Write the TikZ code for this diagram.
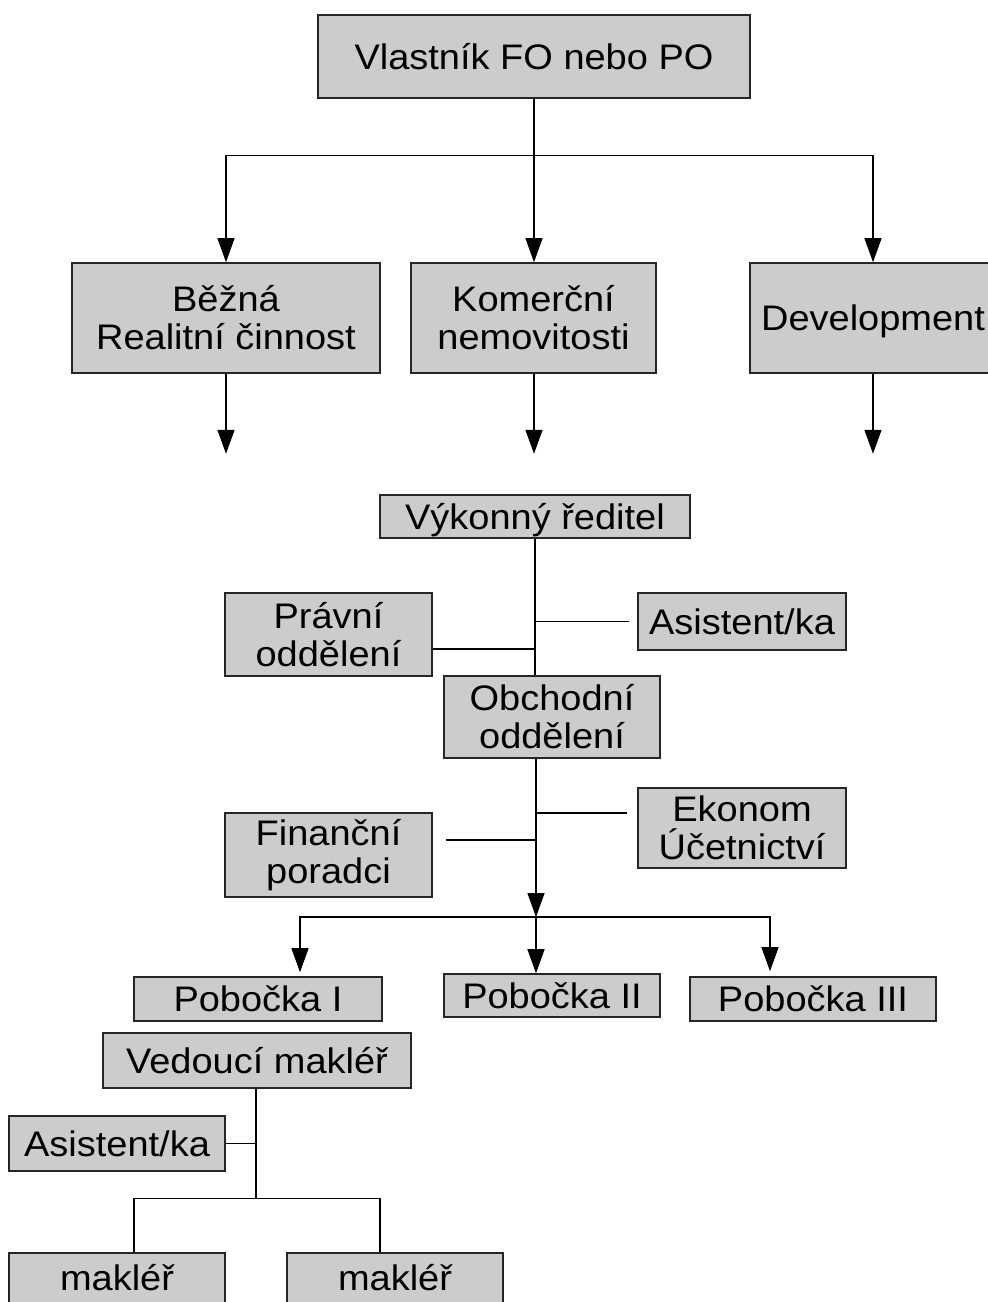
\documentclass[tikz,border=0pt]{standalone}
\usepackage{fontspec}
\setmainfont{Liberation Sans}[FakeStretch=1.07]
\usetikzlibrary{arrows.meta,calc}

\tikzset{
    box/.style={draw=black!85, line width=1.6pt, fill=black!20, inner sep=0pt,
        align=center, font=\fontsize{35.5pt}{38pt}\selectfont},
    oneline/.style={box, text depth=0pt},
    makbox/.style={box, anchor=north, text height=26pt, text depth=40pt,
        inner ysep=12pt, minimum width=216pt},
    arr/.style={-{Triangle[length=24pt,width=17pt]}}
}

\begin{document}
\begin{tikzpicture}[x=1pt,y=-1pt,line width=1.3pt]
    \clip (0,0) rectangle (988,1302);

    \node[oneline, minimum width=432pt, minimum height=83pt] (owner) at (534,56.5) {Vlastník FO nebo PO};

    \node[box, minimum width=308pt, minimum height=110pt] (bezna) at (226,318) {Běžná\\Realitní činnost};
    \node[box, minimum width=245pt, minimum height=110pt] (komer) at (533.5,318) {Komerční\\nemovitosti};
    \node[oneline, minimum width=246pt, minimum height=110pt] (devel) at (873,318) {Development};

    \node[oneline, minimum width=310pt, minimum height=43pt] (ceo) at (535,516.5) {Výkonný ředitel};
    \node[box, minimum width=207pt, minimum height=83pt] (pravni) at (328.5,634.5) {Právní\\oddělení};
    \node[oneline, minimum width=208pt, minimum height=57pt] (asist1) at (742,621.5) {Asistent/ka};
    \node[box, minimum width=216pt, minimum height=82pt] (obchod) at (552,717) {Obchodní\\oddělení};
    \node[box, minimum width=208pt, minimum height=80pt] (ekonom) at (742,828) {Ekonom\\Účetnictví};
    \node[box, minimum width=207pt, minimum height=84pt] (financ) at (328.5,855) {Finanční\\poradci};

    \node[oneline, minimum width=248pt, minimum height=44pt] (pob1) at (258,999) {Pobočka I};
    \node[oneline, minimum width=216pt, minimum height=43pt] (pob2) at (552,995.5) {Pobočka II};
    \node[oneline, minimum width=246pt, minimum height=44pt] (pob3) at (813,999) {Pobočka III};

    \node[oneline, minimum width=308pt, minimum height=55pt] (lead) at (257,1060.5) {Vedoucí makléř};
    \node[oneline, minimum width=216pt, minimum height=55pt] (asist2) at (117,1143.5) {Asistent/ka};
    \node[makbox] (makl1) at (117,1252) {makléř};
    \node[makbox] (makl2) at (395,1252) {makléř};

    \coordinate (split1) at ($(owner.south)+(0,57)$);
    \draw (owner.south) -- (split1);
    \draw[arr] (split1) -| (bezna.north);
    \draw[arr] (split1) -- (split1 |- komer.north);
    \draw[arr] (split1) -| (devel.north);
    \coordinate (free1) at ($(bezna.south)+(0,80)$);
    \coordinate (free2) at ($(komer.south)+(0.5,80)$);
    \coordinate (free3) at ($(devel.south)+(0,80)$);
    \draw[arr] (bezna.south) -- (free1);
    \draw[arr] (komer.south -| free2) -- (free2);
    \draw[arr] (devel.south) -- (free3);

    \coordinate (split2) at ($(ceo.south)+(1,0)$);
    \coordinate (split2) at (split2 |- 0,917);
    \draw (ceo.south) -- (ceo.south |- obchod.north);
    \draw[shorten >=8pt] (ceo.south |- asist1.west) -- (asist1.west);
    \coordinate (p1) at ($(pravni.east)+(0,14.5)$);
    \draw (p1) -- (p1 -| ceo.south);
    \draw[arr] (split2 |- obchod.south) -- (split2);
    \coordinate (e1) at ($(ekonom.west)+(-10,-15)$);
    \draw (e1) -- (e1 -| split2);
    \coordinate (f1) at ($(financ.east)+(13,-15)$);
    \draw (f1) -- (f1 -| split2);

    \draw[arr] (split2) -| ($(pob1.north)+(42,-4)$);
    \draw[arr] (split2) -- (split2 |- pob2.north);
    \draw[arr] (split2) -| ($(pob3.north)+(-43,-5)$);

    \coordinate (split3) at ($(lead.south)+(-1,110)$);
    \draw (lead.south -| split3) -- (split3);
    \draw (asist2.east) -- (asist2.east -| split3);
    \draw (split3) -| ($(makl1.north)+(17,0)$);
    \draw (split3) -| ($(makl2.north)+(-15,0)$);
\end{tikzpicture}
\end{document}
